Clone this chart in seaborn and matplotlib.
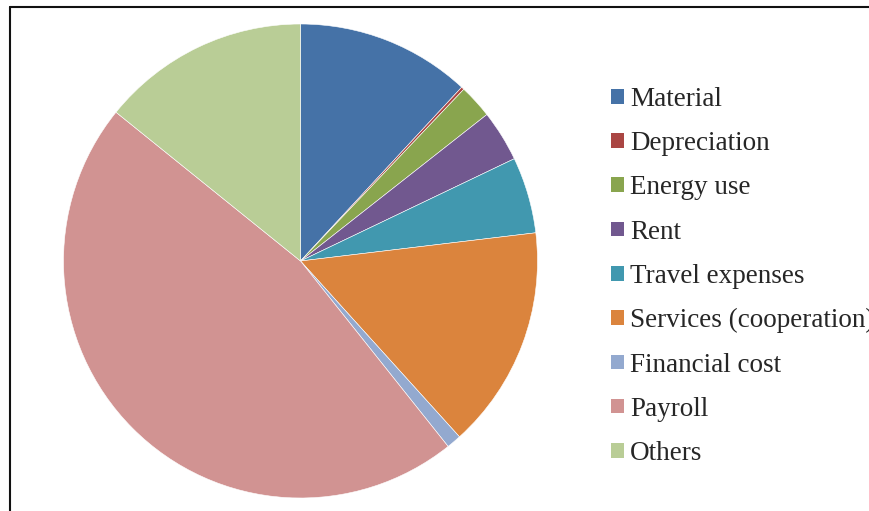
import matplotlib
matplotlib.use("Agg")
import matplotlib.pyplot as plt
import seaborn as sns
from matplotlib.patches import Patch
from matplotlib.lines import Line2D

# Cost categories and their shares (%)
categories = ["Material", "Depreciation", "Energy use", "Rent", "Travel expenses",
              "Services (cooperation)", "Financial cost", "Payroll", "Others"]
shares = [11.9, 0.2, 2.3, 3.5, 5.2, 15.2, 1.0, 46.5, 14.2]

# Excel 2007 style palette
colors = ["#4572A7", "#AA4643", "#89A54E", "#71588F", "#4198AF",
          "#DB843D", "#93A9CF", "#D19392", "#B9CD96"]

sns.set_theme(style="white")
plt.rcParams["font.family"] = ["Liberation Serif", "DejaVu Serif"]

fig = plt.figure(figsize=(8.7, 5.11), dpi=100)

# Pie axes: centre at (300, 261) px, radius 237 px
ax = fig.add_axes([63.5 / 870, 13 / 511, 474 / 870, 474 / 511])
ax.pie(shares, colors=colors, startangle=90, counterclock=False, radius=1,
       wedgeprops={"edgecolor": "white", "linewidth": 0.4})
ax.set_xlim(-1, 1)
ax.set_ylim(-1, 1)
ax.set_aspect("equal")
ax.axis("off")

# Legend with small square keys
handles = [Patch(facecolor=c, edgecolor="none") for c in colors]
fig.legend(handles, categories, loc="upper left",
           bbox_to_anchor=(611.5 / 870, 1 - 87 / 511),
           frameon=False, fontsize=19.5, handlelength=0.46, handleheight=0.46,
           handletextpad=0.22, labelspacing=0.71, borderpad=0, borderaxespad=0)

# Chart frame (top and left borders visible)
fig.add_artist(Line2D([10.5 / 870, 10.5 / 870], [0, 1 - 7.5 / 511],
                      transform=fig.transFigure, color="#111111", lw=1.5))
fig.add_artist(Line2D([10.5 / 870, 1], [1 - 7.5 / 511, 1 - 7.5 / 511],
                      transform=fig.transFigure, color="#111111", lw=1.5))

fig.savefig("out.png", dpi=100)
